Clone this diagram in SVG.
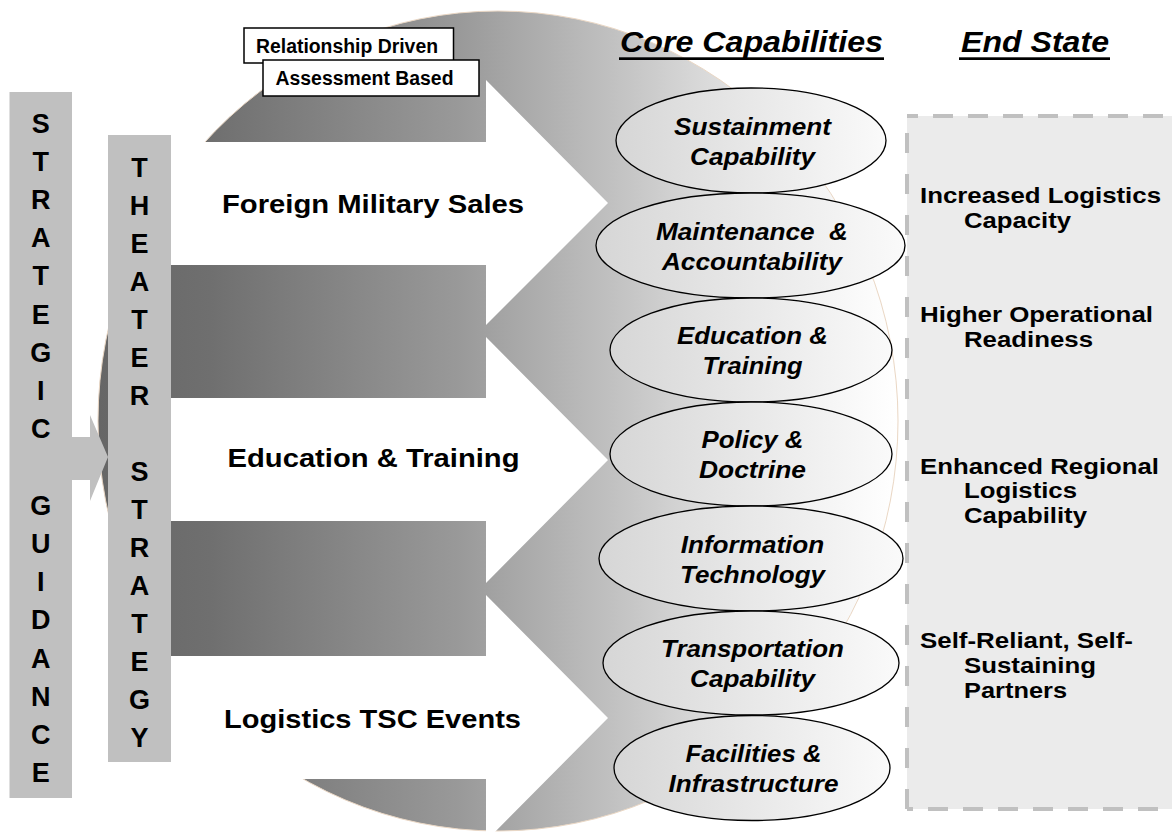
<svg xmlns="http://www.w3.org/2000/svg" width="1172" height="835" viewBox="0 0 1172 835">
<defs>
<linearGradient id="gCircle" gradientUnits="userSpaceOnUse" x1="98" y1="0" x2="898" y2="0">
<stop offset="0" stop-color="#666666"/>
<stop offset="0.14" stop-color="#6f6f6f"/>
<stop offset="0.45" stop-color="#999999"/>
<stop offset="0.63" stop-color="#bebebe"/>
<stop offset="0.75" stop-color="#d8d8d8"/>
<stop offset="0.88" stop-color="#f2f2f2"/>
<stop offset="1" stop-color="#ffffff"/>
</linearGradient>
<linearGradient id="gEll" x1="0" y1="0" x2="1" y2="0">
<stop offset="0" stop-color="#d6d6d6"/>
<stop offset="1" stop-color="#fafafa"/>
</linearGradient>
<style>
.t{font-family:"Liberation Sans",Arial,sans-serif;font-weight:bold;fill:#000000}
.i{font-style:italic}
.bar{fill:#c0c0c0}
.ell{fill:url(#gEll);stroke:#000000;stroke-width:1.3}
.box{fill:#ffffff;stroke:#000000;stroke-width:1.5}
.wa{fill:#ffffff}
.dash{stroke:#c0c0c0;stroke-width:4;fill:none}
.vl{font-size:27px;text-anchor:middle}
.ce{font-size:23px;text-anchor:middle}
.es{font-size:22.5px}
</style>
</defs>
<rect x="0" y="0" width="1172" height="835" fill="#ffffff"/>

<g id="disc">
<ellipse cx="498" cy="421" rx="400" ry="410" fill="url(#gCircle)" stroke="#ead7c4" stroke-width="1"/>
</g>

<g id="connectors">
<polygon class="wa" points="150,142 486,142 486,80 608,203 486,325 486,265 150,265"/>
<polygon class="wa" points="150,398 486,398 486,337 608,460 486,583 486,521 150,521"/>
<polygon class="wa" points="150,656 486,656 486,595 608,718 486,841 486,779 150,779"/>
<polygon class="bar" points="60,437 90,437 90,415 108,457 90,501 90,480 60,480"/>
</g>

<g id="strategic-guidance">
<rect class="bar" x="9.5" y="92" width="62.5" height="706"/>
<text class="t vl">
<tspan x="40.7" y="133">S</tspan><tspan x="40.7" y="171">T</tspan><tspan x="40.7" y="209">R</tspan><tspan x="40.7" y="247">A</tspan><tspan x="40.7" y="285">T</tspan><tspan x="40.7" y="324">E</tspan><tspan x="40.7" y="362">G</tspan><tspan x="40.7" y="400">I</tspan><tspan x="40.7" y="438">C</tspan><tspan x="40.7" y="515">G</tspan><tspan x="40.7" y="553">U</tspan><tspan x="40.7" y="591">I</tspan><tspan x="40.7" y="629">D</tspan><tspan x="40.7" y="668">A</tspan><tspan x="40.7" y="706">N</tspan><tspan x="40.7" y="744">C</tspan><tspan x="40.7" y="782">E</tspan>
</text>
</g>

<g id="theater-strategy">
<rect class="bar" x="108" y="135" width="63" height="627"/>
<text class="t vl">
<tspan x="139.5" y="177">T</tspan><tspan x="139.5" y="215">H</tspan><tspan x="139.5" y="253">E</tspan><tspan x="139.5" y="291">A</tspan><tspan x="139.5" y="329">T</tspan><tspan x="139.5" y="367">E</tspan><tspan x="139.5" y="405">R</tspan><tspan x="139.5" y="481">S</tspan><tspan x="139.5" y="519">T</tspan><tspan x="139.5" y="557">R</tspan><tspan x="139.5" y="595">A</tspan><tspan x="139.5" y="633">T</tspan><tspan x="139.5" y="671">E</tspan><tspan x="139.5" y="709">G</tspan><tspan x="139.5" y="747">Y</tspan>
</text>
</g>

<g id="relationship-driven">
<rect class="box" x="244" y="28" width="209.5" height="35"/>
<text class="t" x="347" y="53" font-size="19.5" text-anchor="middle" textLength="182" lengthAdjust="spacingAndGlyphs">Relationship Driven</text>
</g>
<g id="assessment-based">
<rect class="box" x="263" y="60" width="216" height="36"/>
<text class="t" x="364.5" y="85" font-size="19.5" text-anchor="middle" textLength="178" lengthAdjust="spacingAndGlyphs">Assessment Based</text>
</g>

<g id="flow-labels">
<text class="t" x="373" y="213" font-size="26" text-anchor="middle" textLength="302" lengthAdjust="spacingAndGlyphs">Foreign Military Sales</text>
<text class="t" x="373.5" y="467" font-size="26" text-anchor="middle" textLength="292" lengthAdjust="spacingAndGlyphs">Education &amp; Training</text>
<text class="t" x="372.5" y="728" font-size="26" text-anchor="middle" textLength="297" lengthAdjust="spacingAndGlyphs">Logistics TSC Events</text>
</g>

<g id="headings">
<text class="t i" x="620" y="52" font-size="29" textLength="263" lengthAdjust="spacingAndGlyphs">Core Capabilities</text>
<rect x="619" y="57.3" width="265" height="2.7" fill="#000000"/>
<text class="t i" x="961" y="52" font-size="29" textLength="148" lengthAdjust="spacingAndGlyphs">End State</text>
<rect x="959" y="57.3" width="151" height="2.7" fill="#000000"/>
</g>

<g id="cap-sustainment">
<ellipse class="ell" cx="751" cy="140.5" rx="135" ry="52.5"/>
<text class="t i ce" x="752.5" y="134.5" textLength="157" lengthAdjust="spacingAndGlyphs">Sustainment</text>
<text class="t i ce" x="752.5" y="164.5" textLength="125" lengthAdjust="spacingAndGlyphs">Capability</text>
</g>
<g id="cap-maintenance">
<ellipse class="ell" cx="750.5" cy="245.5" rx="154.5" ry="52.5"/>
<text class="t i ce" x="752" y="239.5" textLength="192" lengthAdjust="spacingAndGlyphs">Maintenance&#160; &amp;</text>
<text class="t i ce" x="752" y="269.5" textLength="180" lengthAdjust="spacingAndGlyphs">Accountability</text>
</g>
<g id="cap-education">
<ellipse class="ell" cx="751" cy="350" rx="141" ry="52"/>
<text class="t i ce" x="752.5" y="344" textLength="151" lengthAdjust="spacingAndGlyphs">Education &amp;</text>
<text class="t i ce" x="752.5" y="374" textLength="100" lengthAdjust="spacingAndGlyphs">Training</text>
</g>
<g id="cap-policy">
<ellipse class="ell" cx="751" cy="454" rx="141" ry="52"/>
<text class="t i ce" x="752.5" y="448" textLength="102" lengthAdjust="spacingAndGlyphs">Policy &amp;</text>
<text class="t i ce" x="752.5" y="478" textLength="107" lengthAdjust="spacingAndGlyphs">Doctrine</text>
</g>
<g id="cap-it">
<ellipse class="ell" cx="751" cy="558.5" rx="152" ry="52.5"/>
<text class="t i ce" x="752.5" y="552.5" textLength="143.5" lengthAdjust="spacingAndGlyphs">Information</text>
<text class="t i ce" x="752.5" y="582.5" textLength="145" lengthAdjust="spacingAndGlyphs">Technology</text>
</g>
<g id="cap-transportation">
<ellipse class="ell" cx="751" cy="663" rx="148" ry="52"/>
<text class="t i ce" x="752.5" y="657" textLength="183" lengthAdjust="spacingAndGlyphs">Transportation</text>
<text class="t i ce" x="752.5" y="687" textLength="125" lengthAdjust="spacingAndGlyphs">Capability</text>
</g>
<g id="cap-facilities">
<ellipse class="ell" cx="752" cy="768" rx="138" ry="52.5"/>
<text class="t i ce" x="753.5" y="762" textLength="136" lengthAdjust="spacingAndGlyphs">Facilities &amp;</text>
<text class="t i ce" x="753.5" y="792" textLength="170" lengthAdjust="spacingAndGlyphs">Infrastructure</text>
</g>

<g id="end-state">
<rect x="907" y="116" width="270" height="693" fill="#ebebeb"/>
<path class="dash" d="M907,116 H1172" stroke-dasharray="20 15" stroke-dashoffset="9"/>
<path class="dash" d="M907,809 H1172" stroke-dasharray="20 15" stroke-dashoffset="14"/>
<path class="dash" d="M907,809 V116" stroke-dasharray="20 21"/>
<text class="t es" x="920" y="203" textLength="241" lengthAdjust="spacingAndGlyphs">Increased Logistics</text>
<text class="t es" x="964" y="227.5" textLength="107" lengthAdjust="spacingAndGlyphs">Capacity</text>
<text class="t es" x="920" y="322" textLength="233" lengthAdjust="spacingAndGlyphs">Higher Operational</text>
<text class="t es" x="964" y="346.5" textLength="129" lengthAdjust="spacingAndGlyphs">Readiness</text>
<text class="t es" x="920" y="473.5" textLength="239" lengthAdjust="spacingAndGlyphs">Enhanced Regional</text>
<text class="t es" x="964" y="498" textLength="113" lengthAdjust="spacingAndGlyphs">Logistics</text>
<text class="t es" x="964" y="522.5" textLength="123" lengthAdjust="spacingAndGlyphs">Capability</text>
<text class="t es" x="920" y="648" textLength="213" lengthAdjust="spacingAndGlyphs">Self-Reliant, Self-</text>
<text class="t es" x="964" y="673" textLength="132" lengthAdjust="spacingAndGlyphs">Sustaining</text>
<text class="t es" x="964" y="698" textLength="103" lengthAdjust="spacingAndGlyphs">Partners</text>
</g>
</svg>
